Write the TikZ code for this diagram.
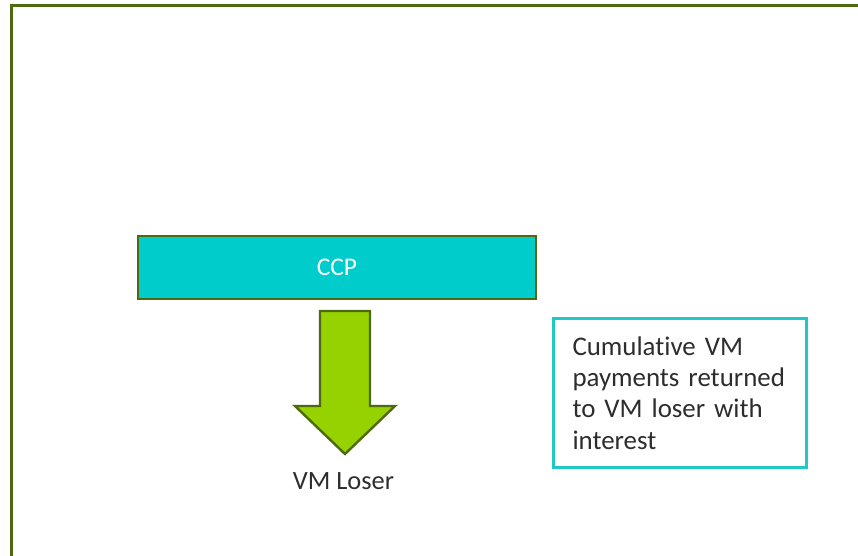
\documentclass[tikz,border=0pt]{standalone}
\usepackage{fontspec}
\setmainfont{Carlito}[Ligatures=NoCommon]
\usepackage{xcolor}
\definecolor{olivedge}{RGB}{78,106,14}
\definecolor{ccpfill}{RGB}{0,204,204}
\definecolor{notedge}{RGB}{32,200,200}
\definecolor{arrowfill}{RGB}{150,210,0}
\definecolor{txtgray}{RGB}{45,45,45}

\begin{document}
\begin{tikzpicture}[x=1bp,y=-1bp,
    ccpbox/.style={draw=olivedge, fill=ccpfill, line width=2.4bp, minimum width=398bp, minimum height=63bp, inner sep=0pt, text=white, font=\fontsize{25.5}{30}\selectfont},
    notebox/.style={draw=notedge, line width=2.4bp, minimum width=253bp, minimum height=149bp, text width=215bp, inner xsep=19bp, align=left, text=txtgray, font=\fontsize{27}{31.5}\selectfont},
    lbl/.style={text=txtgray, font=\fontsize{26.5}{31.5}\selectfont, inner sep=0pt}]
            \useasboundingbox (0,0) rectangle (858,556);
            \clip (0,0) rectangle (858,556);
            \draw[olivedge, line width=3bp] (11.3,5.3) rectangle (900,600);
            \node[ccpbox] (ccp) at (337,267.5) {CCP};
            \draw[olivedge, fill=arrowfill, line width=2.4bp, line join=miter] (320,311) -- (370,311) -- (370,406) -- (395,406) -- (345,454) -- (295,406) -- (320,406) -- cycle;
            \coordinate (tip) at (345,454);
            \node[lbl, anchor=base] (loser) at (343.5,489) {VM Loser};
            \node[notebox] (note) at (680,393) {Cumulative VM\\payments returned\\to VM loser with\\interest};
        \end{tikzpicture}
\end{document}
